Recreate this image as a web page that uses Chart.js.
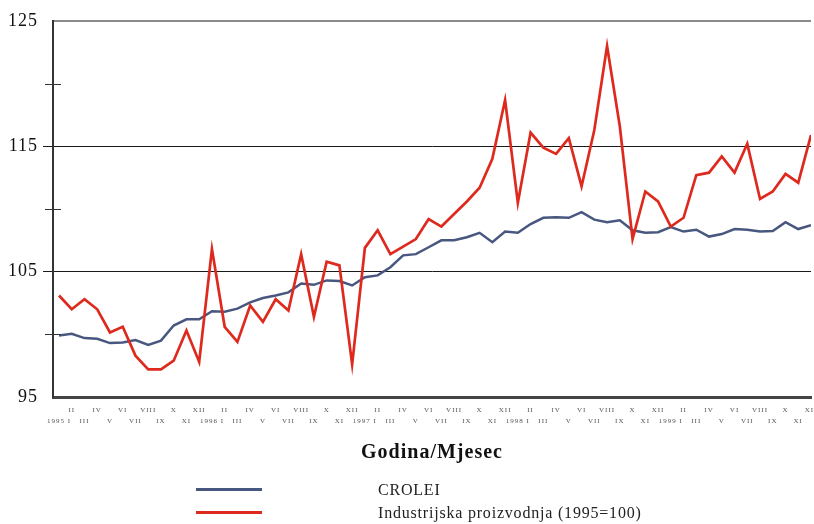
<!DOCTYPE html>
<html>
<head>
<meta charset="utf-8">
<script src="https://cdn.jsdelivr.net/npm/chart.js@4.4.1/dist/chart.umd.min.js"></script>
<style>
body { margin: 0; background: #fff; }
#wrap { position: relative; width: 814px; height: 524px; }
#legend .item { position: absolute; left: 0; width: 814px; height: 20px; }
#legend .swatch { position: absolute; left: 196px; top: 8px; width: 66px; height: 3px; }
#legend .text { position: absolute; left: 378px; top: 0; line-height: 20px;
  font-family: 'Liberation Serif', serif; font-size: 16px; letter-spacing: 0.8px; color: #222; white-space: nowrap; }
</style>
</head>
<body>
<div id="wrap">
  <canvas id="chart"></canvas>
  <div id="legend"></div>
</div>
<script>
// Podaci
var months = ['I', 'II', 'III', 'IV', 'V', 'VI', 'VII', 'VIII', 'IX', 'X', 'XI', 'XII'];
var years = ['1995', '1996', '1997', '1998', '1999'];

var crolei = [
    99.9, 100.05, 99.7, 99.65, 99.3, 99.35, 99.55, 99.15, 99.5, 100.7, 101.2, 101.2,
    101.85, 101.8, 102.05, 102.55, 102.9, 103.1, 103.35, 104.05, 103.95, 104.3, 104.25, 103.9,
    104.55, 104.7, 105.35, 106.3, 106.4, 106.95, 107.5, 107.5, 107.75, 108.1, 107.35, 108.2,
    108.1, 108.8, 109.3, 109.35, 109.3, 109.75, 109.15, 108.95, 109.1, 108.3, 108.1, 108.15,
    108.55, 108.2, 108.35, 107.8, 108.0, 108.4, 108.35, 108.2, 108.25, 108.95, 108.4, 108.7
];

var industrija = [
    103.1, 102.0, 102.8, 102.0, 100.15, 100.6, 98.3, 97.2, 97.2, 97.9, 100.3, 97.8,
    106.8, 100.6, 99.4, 102.3, 101.0, 102.8, 101.9, 106.4, 101.4, 105.8, 105.5, 97.6,
    106.9, 108.3, 106.4, 107.0, 107.6, 109.2, 108.6, 109.6, 110.6, 111.7, 114.0, 118.7,
    110.5, 116.1, 114.9, 114.4, 115.65, 111.8, 116.3, 123.0, 116.6, 107.6, 111.4, 110.6,
    108.6, 109.3, 112.7, 112.9, 114.2, 112.9, 115.2, 110.8, 111.4, 112.8, 112.1, 115.9
];

var yLabels = [95, 105, 115, 125];
var minorTicks = [100, 110, 120];

// Oznake osi x: "1995 I", "II", "III", ...
var xLabels = [];
years.forEach(function(y) {
    months.forEach(function(m) {
        xLabels.push(m === 'I' ? y + ' I' : m);
    });
});

function toPoints(arr) {
    return arr.map(function(v, i) { return { x: i, y: v }; });
}

// Razmak slova i male crtice na osi y
var extrasPlugin = {
    id: 'extras',
    beforeDraw: function(chart) {
        chart.ctx.letterSpacing = '1px';
    },
    afterDraw: function(chart) {
        var ctx = chart.ctx;
        var y = chart.scales.y;
        var left = chart.chartArea.left;
        ctx.save();
        ctx.strokeStyle = '#333';
        ctx.lineWidth = 1;
        minorTicks.forEach(function(v) {
            var py = Math.round(y.getPixelForValue(v)) + 0.5;
            ctx.beginPath();
            ctx.moveTo(left - 8, py);
            ctx.lineTo(left + 8, py);
            ctx.stroke();
        });
        ctx.restore();
    }
};

var chart = new Chart(document.getElementById('chart'), {
    type: 'line',
    data: {
        datasets: [
            {
                label: 'CROLEI',
                data: toPoints(crolei),
                borderColor: '#48577f',
                borderWidth: 2.5,
                pointRadius: 0,
                tension: 0,
                order: 1
            },
            {
                label: 'Industrijska proizvodnja (1995=100)',
                data: toPoints(industrija),
                borderColor: '#de2a1e',
                borderWidth: 2.7,
                pointRadius: 0,
                tension: 0,
                order: 0
            }
        ]
    },
    options: {
        responsive: true,
        maintainAspectRatio: false,
        animation: false,
        layout: { padding: { top: 21, right: 3, bottom: 59, left: 0 } },
        plugins: {
            legend: { display: false },
            tooltip: { enabled: false }
        },
        scales: {
            x: {
                type: 'linear',
                min: -0.47,
                max: 59,
                afterBuildTicks: function(scale) {
                    scale.ticks = xLabels.map(function(l, i) { return { value: i }; });
                },
                afterFit: function(scale) {
                    scale.height = 68;
                    scale.paddingLeft = 0;
                    scale.paddingRight = 0;
                },
                grid: { display: false, drawTicks: false },
                border: { display: true, color: '#444', width: 3 },
                ticks: {
                    autoSkip: false,
                    maxRotation: 0,
                    minRotation: 0,
                    padding: 8,
                    color: '#555',
                    font: { family: 'Liberation Serif', size: 7, lineHeight: 1.57 },
                    callback: function(value, index) {
                        var lab = xLabels[value];
                        return index % 2 === 0 ? ['', lab] : [lab, ''];
                    }
                },
                title: {
                    display: true,
                    text: 'Godina/Mjesec',
                    color: '#111',
                    padding: 0,
                    font: { family: 'Liberation Serif', size: 20, weight: 'bold', lineHeight: 1.2 }
                }
            },
            y: {
                min: 95,
                max: 125,
                afterFit: function(scale) {
                    scale.width = 53;
                    scale.paddingTop = 0;
                    scale.paddingBottom = 0;
                },
                grid: {
                    drawTicks: true,
                    tickLength: 10,
                    color: function(c) {
                        var v = c.tick.value;
                        if (v === 125) return '#8a8a8a';
                        if (v === 105 || v === 115) return '#1a1a1a';
                        return 'rgba(0,0,0,0)';
                    },
                    tickColor: function(c) {
                        var v = c.tick.value;
                        return (v === 105 || v === 115) ? '#1a1a1a' : 'rgba(0,0,0,0)';
                    },
                    lineWidth: function(c) {
                        return c.tick.value === 125 ? 2 : 1;
                    }
                },
                border: { display: true, color: '#333', width: 2 },
                ticks: {
                    stepSize: 5,
                    padding: 5,
                    color: '#111',
                    font: { family: 'Liberation Serif', size: 18 },
                    callback: function(value) {
                        return yLabels.indexOf(value) >= 0 ? value : '';
                    }
                }
            }
        }
    },
    plugins: [extrasPlugin]
});

// Legenda u HTML-u
var legend = document.getElementById('legend');
chart.data.datasets.forEach(function(ds, k) {
    var item = document.createElement('div');
    item.className = 'item';
    item.style.top = (480 + k * 23) + 'px';
    item.innerHTML = '<div class="swatch" style="background:' + ds.borderColor + '"></div>' +
                     '<div class="text">' + ds.label + '</div>';
    legend.appendChild(item);
});
</script>
</body>
</html>
